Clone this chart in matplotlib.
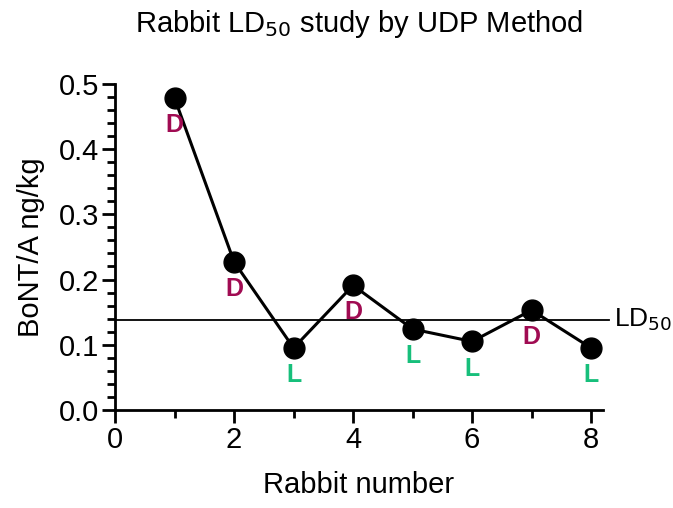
import matplotlib.pyplot as plt
from matplotlib.ticker import MultipleLocator

plt.rcParams['font.family'] = ['Liberation Sans', 'DejaVu Sans']

# Data
rabbit = [1, 2, 3, 4, 5, 6, 7, 8]
dose = [0.478, 0.227, 0.095, 0.191, 0.124, 0.105, 0.153, 0.095]
outcome = ['D', 'D', 'L', 'D', 'L', 'L', 'D', 'L']
ld50 = 0.138

outcome_colors = {'D': '#A00B52', 'L': '#17BF7B'}

fig = plt.figure(figsize=(6.73, 5.08), dpi=100)
ax = fig.add_axes([0.171, 0.193, 0.725, 0.642])

ax.plot(rabbit, dose, color='black', lw=2.2, marker='o', markersize=15,
        clip_on=False, zorder=3)
ax.plot([0, 8.3], [ld50, ld50], color='black', lw=1.3, clip_on=False)
ax.text(8.38, ld50, 'LD$_{50}$', fontsize=19, va='center', ha='left')

for x, y, o in zip(rabbit, dose, outcome):
    ax.annotate(o, (x, y), xytext=(0, -19.5), textcoords='offset points',
                ha='center', va='center', fontsize=18, fontweight='bold',
                color=outcome_colors[o])

ax.set_xlim(0, 8.2)
ax.set_ylim(0, 0.5)
ax.xaxis.set_major_locator(MultipleLocator(2))
ax.xaxis.set_minor_locator(MultipleLocator(1))
ax.yaxis.set_major_locator(MultipleLocator(0.1))
ax.yaxis.set_minor_locator(MultipleLocator(0.02))
ax.yaxis.set_major_formatter(plt.FormatStrFormatter('%.1f'))

for side in ['top', 'right']:
    ax.spines[side].set_visible(False)
for side in ['left', 'bottom']:
    ax.spines[side].set_linewidth(2)
ax.tick_params(which='major', length=9.5, width=2, labelsize=21, pad=2)
ax.tick_params(which='minor', length=6, width=2)

ax.set_xlabel('Rabbit number', fontsize=21, labelpad=12)
ax.set_ylabel('BoNT/A ng/kg', fontsize=21, labelpad=10)
ax.set_title('Rabbit LD$_{50}$ study by UDP Method', fontsize=21, pad=37)

fig.savefig('out.png', dpi=100)
